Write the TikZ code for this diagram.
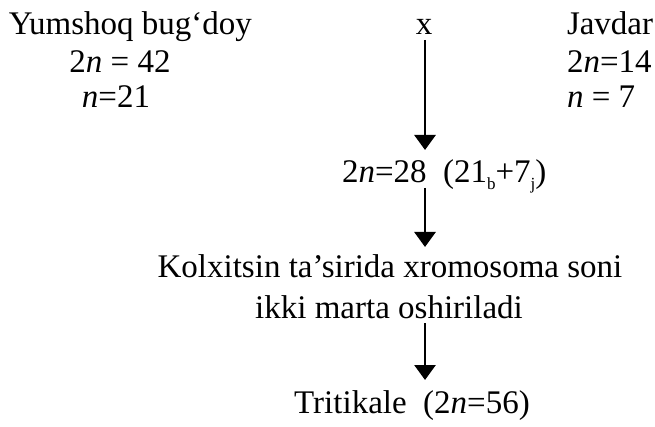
\documentclass[tikz,border=0pt]{standalone}
\usepackage{fontspec}
\setmainfont{Liberation Serif}
\usetikzlibrary{arrows.meta}
\newcommand{\lowsub}[1]{\raisebox{-7pt}{\fontsize{17}{17}\selectfont #1}}
\begin{document}
\begin{tikzpicture}[x=1pt,y=-1pt,
  lbl/.style={inner sep=0pt,outer sep=0pt,font=\fontsize{33}{38}\selectfont},
  arr/.style={line width=2.8pt,-{Triangle[width=21pt,length=15pt]}}]
\useasboundingbox (0,0) rectangle (655,427);
\node[lbl,anchor=base west] (yb) at (9,35) {Yumshoq bug‘doy};
\node[lbl,anchor=base] (y2) at (120,73) {2\textit{n} = 42};
\node[lbl,anchor=base] (y1) at (116,108) {\textit{n}=21};
\node[lbl,anchor=base] (x) at (424,35) {x};
\node[lbl,anchor=base west] (j1) at (567,35) {Javdar};
\node[lbl,anchor=base west] (j2) at (567,73) {2\textit{n}=14};
\node[lbl,anchor=base west] (j3) at (567,108) {\textit{n} = 7};
\node[lbl,anchor=base west] (h) at (342,183) {2\textit{n}=28\ \ (21\lowsub{b}+7\lowsub{j})};
\node[lbl,anchor=base] (k1) at (390,278) {Kolxitsin ta’sirida xromosoma soni};
\node[lbl,anchor=base] (k2) at (389,318) {ikki marta oshiriladi};
\node[lbl,anchor=base] (t) at (412,413) {Tritikale\ \ (2\textit{n}=56)};
\coordinate (a1s) at (425,40);
\coordinate (a1e) at (425,150);
\coordinate (a2s) at (425,188);
\coordinate (a2e) at (425,247);
\coordinate (a3s) at (425,323);
\coordinate (a3e) at (425,380);
\draw[arr] (a1s) -- (a1e);
\draw[arr] (a2s) -- (a2e);
\draw[arr] (a3s) -- (a3e);
\end{tikzpicture}
\end{document}
